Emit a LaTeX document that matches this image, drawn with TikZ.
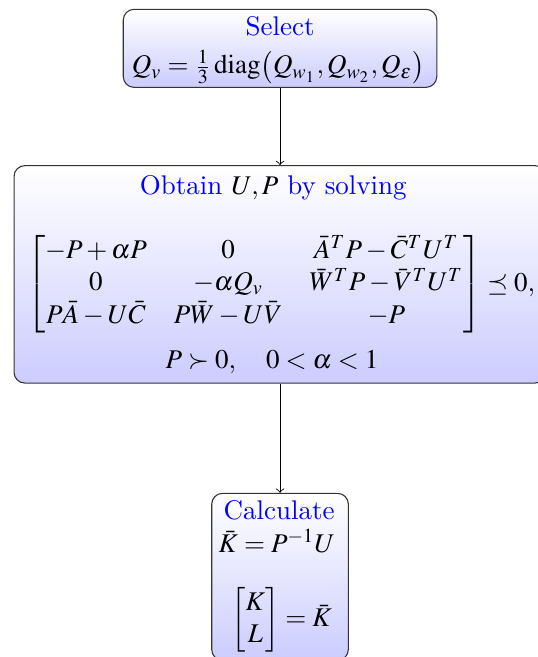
\documentclass[tikz,border=0pt]{standalone}
\usepackage{amsmath}
\usepackage{mathptmx}
\begin{document}
\begin{tikzpicture}[x=1pt,y=1pt,
  flowbox/.style={draw=black!80, line width=0.4pt, rounded corners=4pt,
    top color=white, bottom color=blue!20, inner sep=0pt},
  boxtext/.style={anchor=base, inner sep=0pt},
  flowarrow/.style={->, black, line width=0.3pt}]
\useasboundingbox (0,0) rectangle (198.9,-243.3);
% boxes
\node[flowbox, minimum width=116.1pt, minimum height=28.9pt] (sel) at (103.7,-17.9) {};
\node[flowbox, minimum width=197pt, minimum height=80.5pt] (obt) at (103.7,-101.6) {};
\node[flowbox, minimum width=50.6pt, minimum height=61.8pt] (calc) at (103.7,-213.6) {};
% texts of the first box
\node[boxtext, text=blue] (selA) at (103.7,-13.3) {Select};
\node[boxtext] (selB) at (103.1,-27.4)
  {$Q_v=\frac{1}{3}\operatorname{diag}\bigl(Q_{w_1},Q_{w_2},Q_{\varepsilon}\bigr)$};
% texts of the second box
\node[boxtext] (obtA) at (101.2,-72.2)
  {\textcolor{blue}{Obtain} $U,P$ \textcolor{blue}{by solving}};
\node[boxtext] (obtB) at (104.1,-107.8)
  {$\begin{bmatrix}
     -P+\alpha P & 0 & \smash[t]{\bar A^T P-\bar C^T U^T}\\
     0 & -\alpha Q_v & \smash[t]{\bar W^T P-\bar V^T U^T}\\
     \smash[t]{P\bar A-U\bar C} & \smash[t]{P\bar W-U\bar V} & -P
    \end{bmatrix}\preceq 0,$};
\node[boxtext] (obtC) at (100.7,-136.4) {$P\succ 0,\quad 0<\alpha<1$};
% texts of the third box
\node[boxtext, text=blue] (calcA) at (103.4,-192.4) {Calculate};
\node[boxtext] (calcB) at (102.5,-204.7) {$\bar K=P^{-1}U$};
\node[boxtext] (calcC) at (104.3,-232.1) {$\begin{bmatrix}K\\L\end{bmatrix}=\bar K$};
% connectors
\draw[flowarrow] (sel) -- (obt);
\draw[flowarrow] (obt) -- (calc);
\end{tikzpicture}
\end{document}
